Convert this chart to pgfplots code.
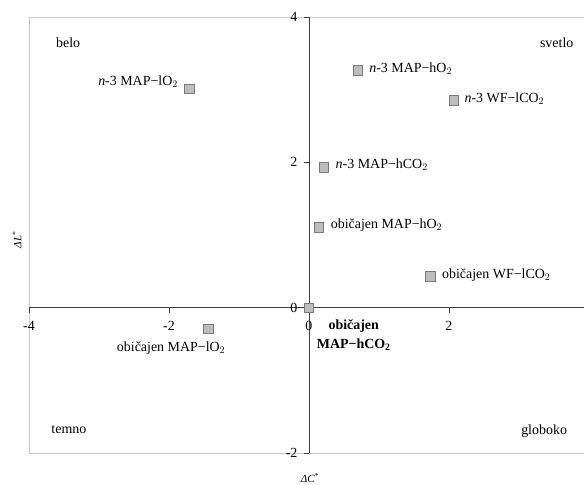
\documentclass[border=0pt]{standalone}
\usepackage{fontspec}
\setmainfont{Liberation Serif}
\usepackage{pgfplots}
\pgfplotsset{compat=1.18}
\definecolor{frame}{HTML}{C8C8C8}
\definecolor{axln}{HTML}{404040}
\definecolor{mfill}{HTML}{BDBDBD}
\definecolor{mdraw}{HTML}{7A7A7A}
\begin{document}
\begin{tikzpicture}[x=1bp,y=1bp]
\begin{axis}[
  set layers,
  at={(0,0)}, anchor=south west,
  scale only axis, width=555bp, height=436bp,
  xmin=-4, xmax=3.93, ymin=-2, ymax=4,
  axis lines=middle,
  axis line style={axln, line width=0.7bp, -},
  xtick={-4,-2,0,2}, ytick={-2,0,2,4},
  hide obscured x ticks=false, hide obscured y ticks=false,
  major tick length=5bp,
  tick align=outside,
  tick style={axln, line width=0.6bp},
  xticklabel style={font=\fontsize{14}{16}\selectfont, yshift=-5bp},
  yticklabel style={font=\fontsize{14}{16}\selectfont, xshift=-3bp},
  /pgf/number format/assume math mode=true,
  clip=false,
]
\begin{pgfonlayer}{axis background}
\draw[frame, line width=0.8bp] (rel axis cs:1,0) -- (rel axis cs:0,0) -- (rel axis cs:0,1) -- (rel axis cs:1,1);
\end{pgfonlayer}
\addplot[only marks, mark=square*, mark size=4.8bp, mark options={fill=mfill, draw=mdraw, line width=0.6bp}]
coordinates {
(-1.71,3.01) (0.70,3.27) (2.07,2.85) (0.21,1.93) (0.14,1.11) (1.73,0.43) (0,0) (-1.44,-0.29)
};
\begin{scope}[every node/.style={font=\fontsize{14}{16}\selectfont, inner sep=0pt}]
\node[anchor=east] at (axis cs:-1.87,3.11) {\textit{n}-3 MAP\textminus lO$_2$};
\node[anchor=west] at (axis cs:0.86,3.29) {\textit{n}-3 MAP\textminus hO$_2$};
\node[anchor=west] at (axis cs:2.22,2.88) {\textit{n}-3 WF\textminus lCO$_2$};
\node[anchor=west] at (axis cs:0.38,1.97) {\textit{n}-3 MAP\textminus hCO$_2$};
\node[anchor=west] at (axis cs:0.31,1.14) {običajen MAP\textminus hO$_2$};
\node[anchor=west] at (axis cs:1.90,0.45) {običajen WF\textminus lCO$_2$};
\node[align=center, font=\fontsize{14}{19}\selectfont\bfseries] at (axis cs:0.64,-0.38) {običajen\\MAP\textminus hCO$_\mathbf{2}$};
\node at (axis cs:-1.97,-0.55) {običajen MAP\textminus lO$_2$};
\node at (axis cs:-3.44,3.65) {belo};
\node at (axis cs:3.54,3.65) {svetlo};
\node at (axis cs:-3.43,-1.68) {temno};
\node at (axis cs:3.36,-1.70) {globoko};
\end{scope}
\end{axis}
\node[rotate=90, font=\fontsize{11}{13}\selectfont] at (-12bp,213bp) {\textit{ΔL}\textsuperscript{*}};
\node[font=\fontsize{11}{13}\selectfont] at (281bp,-25bp) {\textit{ΔC}\textsuperscript{*}};
\pgfresetboundingbox
\path (-29bp,-32bp) rectangle (555bp,453bp);
\end{tikzpicture}
\end{document}
